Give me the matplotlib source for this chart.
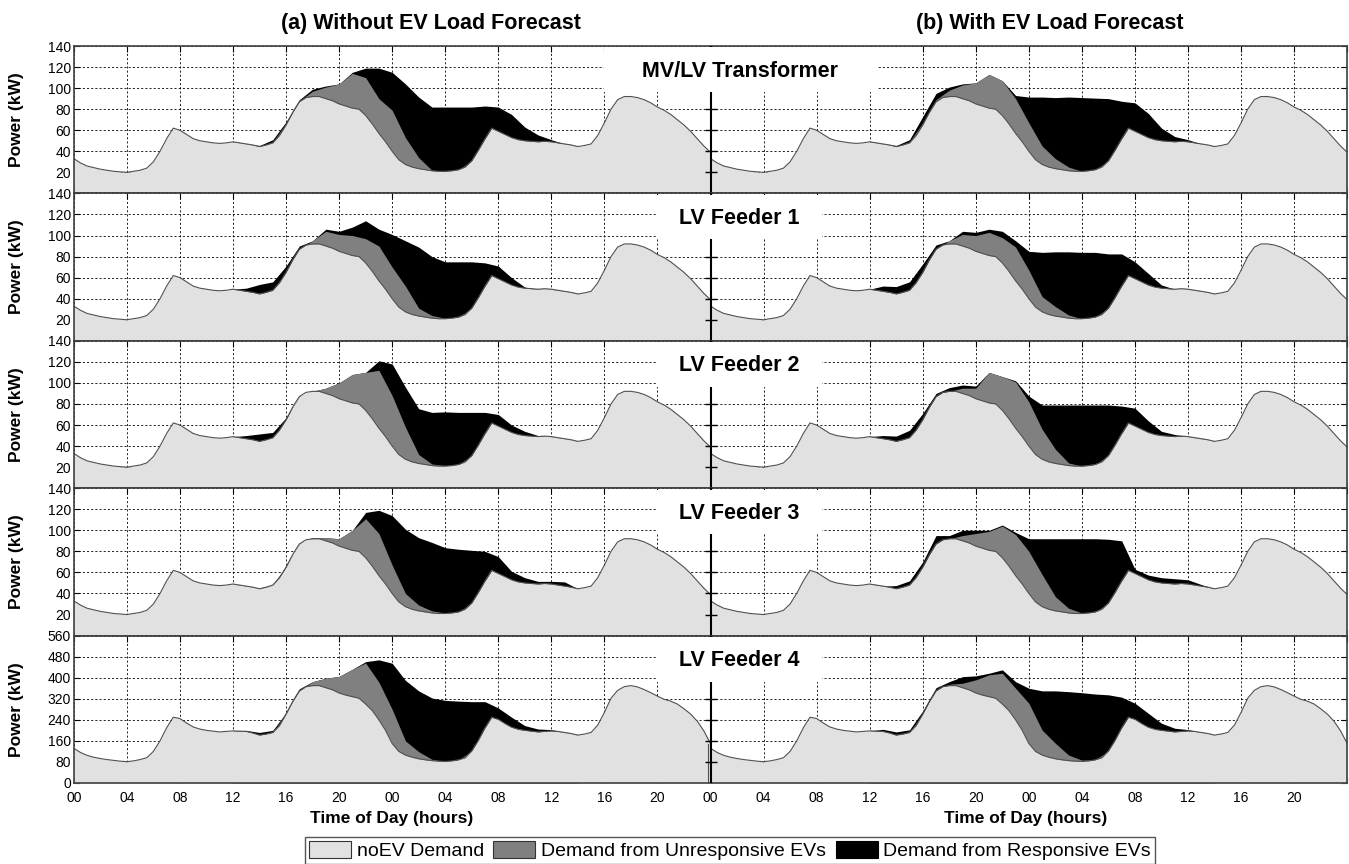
import numpy as np
import matplotlib.pyplot as plt
from matplotlib.patches import Patch, Rectangle
import matplotlib.transforms as mtransforms

plt.rcParams['font.family'] = ['Liberation Sans', 'DejaVu Sans']

# half-hour grid of one 48 h run (00:00 day 1 -> 00:00 day 3)
hours = np.arange(0, 48.5, 0.5)

# noEV demand, MV/LV transformer and LV feeders 1-3 (kW)
noev_kw = np.array([
    33, 29, 26, 24.5, 23, 22, 21, 20.5, 20, 21, 22, 24, 30, 40, 52, 62, 60, 56, 52, 50, 49, 48, 47.5, 48,
    49, 48, 47, 46, 44.5, 46, 48, 55, 65, 77, 87, 91, 92, 92, 90, 88, 85, 83, 81, 80, 74, 66, 57, 49,
    40, 32, 27.5, 25, 23.5, 22.5, 21.5, 21, 21, 21.5, 22.5, 25, 31, 41, 52, 62, 59, 56, 53, 51, 50, 49.5, 49, 49.5,
    49, 48, 47, 46, 44.5, 45.5, 47, 55, 67, 80, 89, 92, 92, 91, 89, 86, 82, 79, 75, 70, 65, 59, 52, 45,
    39])

# noEV demand, LV feeder 4 (kW)
noev_f4 = np.array([
    132, 116, 105, 98, 93, 89, 86, 83, 81, 84, 89, 96, 120, 160, 210, 250, 245, 228, 213, 205, 200, 197, 194, 196,
    198, 197, 196, 190, 182, 186, 192, 218, 262, 310, 350, 366, 370, 370, 362, 354, 342, 334, 328, 322, 300, 275, 240, 200,
    150, 120, 106, 98, 92, 88, 85, 83, 82, 84, 88, 96, 122, 162, 210, 250, 242, 226, 212, 204, 200, 197, 194, 196,
    198, 196, 192, 188, 182, 186, 192, 220, 268, 322, 352, 366, 370, 365, 355, 343, 330, 318, 311, 300, 282, 262, 235, 198,
    150])

# hourly EV demand (kW), 12:00 day 1 -> 14:00 day 2
ev_hours = np.arange(12, 39)

# (a) without EV load forecast
trafo_unresp_a = [0, 0, 0, 1, 1, 1, 5, 11, 19, 33, 36, 33, 39, 25.5, 10.5, 0.5, 0, 0, 0, 0, 0, 0, 0, 0, 0, 0, 0]
trafo_resp_a = [0, 0, 1, 2, 2, 1, 2, 1, 0, 1, 9, 29, 36, 51, 57.5, 60, 61, 59.5, 51, 31, 23, 22, 13, 6.5, 2, 0, 0]
f1_unresp_a = [0, 0, 0, 0, 0, 0, 3, 14, 16, 19, 23, 33, 30, 24.5, 7.5, 2.5, 0.5, 0, 0, 0, 0, 0, 0, 0, 0, 0, 0]
f1_resp_a = [0, 3, 9, 8, 6, 3, 0, 2, 3, 8, 17, 16, 31, 43, 58, 56, 53.5, 52.5, 44, 22, 12, 7, 1, 0, 0, 0, 0]
f2_unresp_a = [0, 0, 0, 0, 0, 0, 0, 5, 15, 27, 36, 55, 48, 30.5, 8.5, 1.5, 0.5, 0, 0, 0, 0, 0, 0, 0, 0, 0, 0]
f2_resp_a = [0, 3, 7, 5, 2, 0, 0, 0, 0, 0, 0, 9, 30, 38, 43.5, 49, 51, 49.5, 41, 20, 11, 7, 4, 1, 0, 0, 0]
f3_unresp_a = [0, 0, 0, 0, 0, 0, 1, 3, 7, 19, 37, 40, 27, 12.5, 5.5, 2, 0.5, 0, 0, 0, 0, 0, 0, 0, 0, 0, 0]
f3_resp_a = [0, 0, 0, 0, 1, 0, 0, 0, 0, 0, 6, 22, 47, 61, 64, 65, 62, 59.5, 50, 28, 16, 8, 5, 2.5, 2.5, 4, 0]
f4_unresp_a = [0, 0, 0, 0, 0, 0, 15, 36, 63, 104, 156, 143, 130, 54, 27, 5, 0, 0, 0, 0, 0, 0, 0, 0, 0, 0, 0]
f4_resp_a = [0, 4, 10, 8, 5, 8, 0, 0, 0, 0, 5, 85, 175, 230, 231, 233, 232, 223, 187, 99, 43, 38, 18, 11, 5, 0, 0]

# (b) with EV load forecast
trafo_unresp_b = [0, 0, 0, 1, 2, 2, 6, 13, 20, 32, 33, 33, 27, 17.5, 9.5, 3.5, 0, 0, 0, 0, 0, 0, 0, 0, 0, 0, 0]
trafo_resp_b = [0, 0, 1, 2, 6, 6, 3, 1, 0, 0, 0, 3, 24.5, 46.5, 58, 66.5, 70, 68, 59, 35.5, 27, 23, 12, 5, 2, 0, 0]
f1_unresp_b = [0, 0, 0, 0, 0, 0, 3, 11, 15, 22, 24, 32, 27, 14.5, 9, 3, 0, 0, 0, 0, 0, 0, 0, 0, 0, 0, 0]
f1_resp_b = [0, 5, 7, 8, 8, 4, 0, 3, 3, 3, 6, 6, 18, 42, 52, 60, 63, 61.5, 51.5, 30.5, 16, 11, 3, 0, 0, 0, 0]
f2_unresp_b = [0, 0, 0, 0, 0, 0, 0, 5, 10, 29, 32, 44, 42, 28.5, 13.5, 2.5, 0, 0, 0, 0, 0, 0, 0, 0, 0, 0, 0]
f2_resp_b = [0, 3, 5, 7, 6, 3, 3.5, 3, 2, 0, 0, 1, 5.5, 23, 42, 55, 58, 56.5, 48, 26, 17, 11, 4, 2, 0, 0, 0]
f3_unresp_b = [0, 0, 0, 0, 0, 0, 0, 5, 12, 18, 30, 39, 40, 30.5, 13.5, 4.5, 0.5, 0, 0, 0, 0, 0, 0, 0, 0, 0, 0]
f3_resp_b = [0, 0, 3, 4, 5, 8, 3, 5, 3, 1, 1, 2, 12, 34, 55, 66, 70.5, 69.5, 60.5, 38, 4, 4.5, 5, 5, 4, 1.5, 0]
f4_unresp_b = [0, 0, 0, 0, 0, 0, 5, 17, 50, 83, 117, 120, 153, 95, 59, 21, 5, 0, 0, 0, 0, 0, 0, 0, 0, 0, 0]
f4_resp_b = [0, 8, 12, 10, 12, 12, 10, 25, 15, 6, 13, 25, 57, 149, 199, 241, 256, 250, 213, 116, 61, 53, 27, 14, 5, 0, 0]

row_titles = ['MV/LV Transformer', 'LV Feeder 1', 'LV Feeder 2', 'LV Feeder 3', 'LV Feeder 4']

rows = [
    (noev_kw, (trafo_unresp_a, trafo_resp_a), (trafo_unresp_b, trafo_resp_b)),
    (noev_kw, (f1_unresp_a, f1_resp_a), (f1_unresp_b, f1_resp_b)),
    (noev_kw, (f2_unresp_a, f2_resp_a), (f2_unresp_b, f2_resp_b)),
    (noev_kw, (f3_unresp_a, f3_resp_a), (f3_unresp_b, f3_resp_b)),
    (noev_f4, (f4_unresp_a, f4_resp_a), (f4_unresp_b, f4_resp_b)),
]

LIGHT = '#e1e1e1'
GREY = '#808080'
EDGE = '#505050'

W, H = 1349, 864
fig = plt.figure(figsize=(W / 100, H / 100), dpi=100)

ax_left, ax_w = 73.8, 1273.4
row_top0, row_h = 46, 147.4

# idx of hourly points inside the half-hour grid
idx = (ev_hours * 2).astype(int)

for r, (noev, part_a, part_b) in enumerate(rows):
    top = row_top0 + r * row_h
    ax = fig.add_axes([ax_left / W, 1 - (top + row_h) / H, ax_w / W, row_h / H])
    ymax = 560 if r == 4 else 140
    ystep = 80 if r == 4 else 20

    for off, (unresp, resp) in ((0, part_a), (48, part_b)):
        base = noev[idx]
        lvl1 = base + np.array(unresp)
        lvl2 = lvl1 + np.array(resp)
        ax.fill_between(ev_hours + off, 0, lvl2, color='black', lw=0, zorder=1)
        ax.fill_between(ev_hours + off, 0, lvl1, color=GREY, lw=0, zorder=1.1)
        ax.fill_between(hours + off, 0, noev, color=LIGHT, lw=0, zorder=1.2)
        ax.plot(hours + off, noev, color=EDGE, lw=0.8, zorder=1.3)

    if r == 4:
        ax.plot([47.8, 47.8], [0, noev[-1]], color=EDGE, lw=0.8, zorder=1.3)

    ax.set_xlim(0, 96)
    ax.set_ylim(0, ymax)
    yt = np.arange(0, ymax + 1, ystep)
    ax.set_yticks(yt)
    if r == 4:
        ax.set_yticklabels([str(v) for v in yt])
    else:
        ax.set_yticklabels([''] + [str(v) for v in yt[1:]])
    xt = np.arange(0, 97, 4)
    ax.set_xticks(xt)
    if r == 4:
        ax.set_xticklabels(['%02d' % (h % 24) if h < 96 else '' for h in xt])
    else:
        ax.set_xticklabels([])
    ax.tick_params(direction='in', length=4, width=0.8, labelsize=10, pad=2,
                   top=True, right=True, colors='black')
    ax.tick_params(axis='x', pad=6)
    ax.grid(True, linestyle=(0, (2.5, 2.5)), color='black', lw=0.6)
    ax.set_axisbelow(True)
    for sp in ax.spines.values():
        sp.set_color('#404040')
        sp.set_linewidth(1.2)

    # boundary between the two runs, with its own tick marks
    ax.axvline(48, color='black', lw=1.5, zorder=2.6)
    ax.plot([48] * (len(yt) - 2), yt[1:-1], ls='none', marker='_', ms=8,
            mew=1.0, color='black', zorder=2.6)

    ax.set_ylabel('Power (kW)', fontsize=12.5, fontweight='bold')
    ax.yaxis.set_label_coords(-0.0393, 0.5)

    # white box behind the row title
    trans = mtransforms.blended_transform_factory(ax.transData, ax.transAxes)
    if r == 0:
        x0, x1 = 40.0, 60.6
    else:
        x0, x1 = 43.9, 56.4
    ax.add_patch(Rectangle((x0, 0.688), x1 - x0, 0.302, transform=trans,
                           facecolor='white', edgecolor='none', zorder=3))
    ax.text(50.2, 0.83, row_titles[r], transform=trans, ha='center', va='center',
            fontsize=15.5, fontweight='bold', zorder=4)

fig.text(431 / W, 1 - 23 / H, '(a) Without EV Load Forecast', ha='center', va='center',
         fontsize=15.5, fontweight='bold')
fig.text(1050 / W, 1 - 23 / H, '(b) With EV Load Forecast', ha='center', va='center',
         fontsize=15.5, fontweight='bold')
fig.text(392 / W, 1 - 819 / H, 'Time of Day (hours)', ha='center', va='center',
         fontsize=12.5, fontweight='bold')
fig.text(1026 / W, 1 - 819 / H, 'Time of Day (hours)', ha='center', va='center',
         fontsize=12.5, fontweight='bold')

handles = [Patch(facecolor=LIGHT, edgecolor='#333333', lw=0.8),
           Patch(facecolor=GREY, edgecolor='#333333', lw=0.8),
           Patch(facecolor='black', edgecolor='black', lw=0.8)]
labels = ['noEV Demand', 'Demand from Unresponsive EVs', 'Demand from Responsive EVs']
leg = fig.legend(handles, labels, loc='upper center', bbox_to_anchor=(730 / W, 1 - 837 / H),
                 ncol=3, fontsize=14, handlelength=2.15, handleheight=1.0,
                 handletextpad=0.3, columnspacing=0.5, borderpad=0.2, borderaxespad=0,
                 fancybox=False, framealpha=1, edgecolor='#555555')
leg.get_frame().set_linewidth(1.0)

fig.savefig('out.png', dpi=100)
